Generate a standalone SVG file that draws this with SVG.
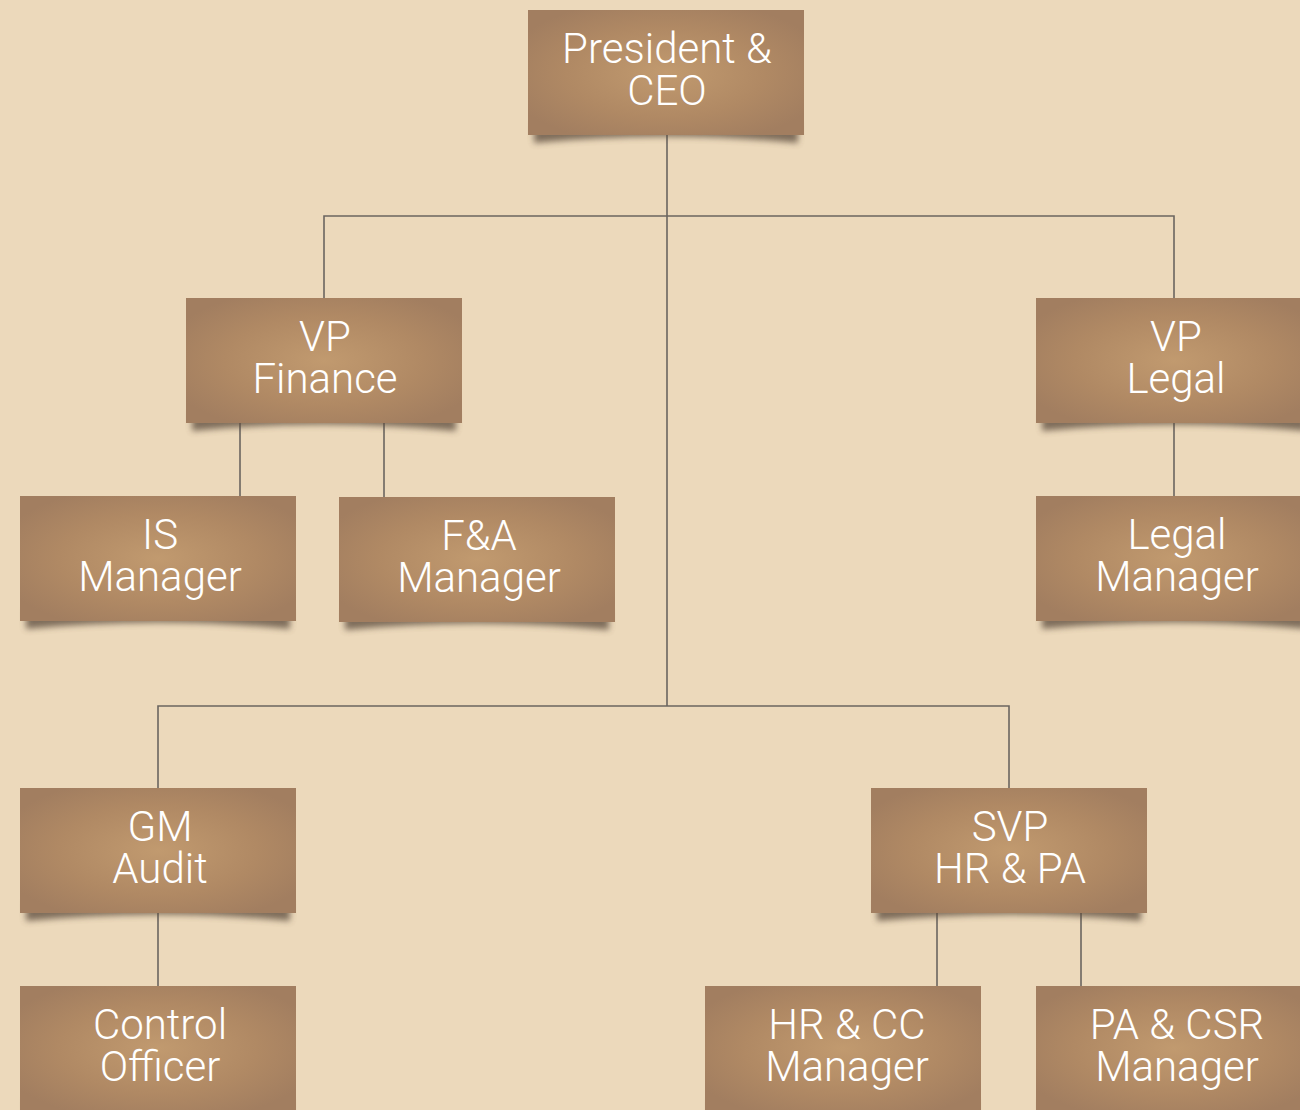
<svg xmlns="http://www.w3.org/2000/svg" width="1300" height="1110" viewBox="0 0 1300 1110">
<defs>
<radialGradient id="g" cx="50%" cy="50%" r="60%">
<stop offset="0" stop-color="#c19a6f"/>
<stop offset="0.6" stop-color="#b08964"/>
<stop offset="1" stop-color="#a27e60"/>
</radialGradient>
<filter id="blur" x="-10%" y="-50%" width="120%" height="200%">
<feGaussianBlur stdDeviation="3"/>
</filter>
<g id="box">
<path d="M6,112 L6,133 Q138,120 270,133 L270,112 Z" fill="#5a4a3a" opacity="0.75" filter="url(#blur)"/>
<rect x="0" y="0" width="276" height="125" fill="url(#g)"/>
</g>
</defs>
<style>
text{font-family:"Roboto","Liberation Sans",Arial,sans-serif;font-weight:300;font-size:42px;fill:#ffffff;text-anchor:middle;}
.c{stroke:#6b6560;stroke-width:1.6;fill:none;}
</style>
<rect width="1300" height="1110" fill="#ecd9bb"/>
<g id="connectors">
<path class="c" d="M667,135 V706"/>
<path class="c" d="M324,298 V216 H1174 V298"/>
<path class="c" d="M240,423 V496 M384,423 V497"/>
<path class="c" d="M1174,423 V496"/>
<path class="c" d="M158,788 V706 H1009 V788"/>
<path class="c" d="M158,913 V986"/>
<path class="c" d="M937,913 V986 M1081,913 V986"/>
</g>
<g id="ceo"><use href="#box" x="528" y="10"/><text><tspan x="667" y="63">President &amp;</tspan><tspan x="667" y="105">CEO</tspan></text></g>
<g id="vp-finance"><use href="#box" x="186" y="298"/><text><tspan x="325" y="351">VP</tspan><tspan x="325" y="393">Finance</tspan></text></g>
<g id="vp-legal"><use href="#box" x="1036" y="298"/><text><tspan x="1176" y="351">VP</tspan><tspan x="1176" y="393">Legal</tspan></text></g>
<g id="is-manager"><use href="#box" x="20" y="496"/><text><tspan x="160" y="549">IS</tspan><tspan x="160" y="591">Manager</tspan></text></g>
<g id="fa-manager"><use href="#box" x="339" y="497"/><text><tspan x="479" y="550">F&amp;A</tspan><tspan x="479" y="592">Manager</tspan></text></g>
<g id="legal-manager"><use href="#box" x="1036" y="496"/><text><tspan x="1177" y="549">Legal</tspan><tspan x="1177" y="591">Manager</tspan></text></g>
<g id="gm-audit"><use href="#box" x="20" y="788"/><text><tspan x="160" y="841">GM</tspan><tspan x="160" y="883">Audit</tspan></text></g>
<g id="svp-hr-pa"><use href="#box" x="871" y="788"/><text><tspan x="1010" y="841">SVP</tspan><tspan x="1010" y="883">HR &amp; PA</tspan></text></g>
<g id="control-officer"><use href="#box" x="20" y="986"/><text><tspan x="160" y="1039">Control</tspan><tspan x="160" y="1081">Officer</tspan></text></g>
<g id="hr-cc-manager"><use href="#box" x="705" y="986"/><text><tspan x="847" y="1039">HR &amp; CC</tspan><tspan x="847" y="1081">Manager</tspan></text></g>
<g id="pa-csr-manager"><use href="#box" x="1036" y="986"/><text><tspan x="1177" y="1039">PA &amp; CSR</tspan><tspan x="1177" y="1081">Manager</tspan></text></g>
</svg>
